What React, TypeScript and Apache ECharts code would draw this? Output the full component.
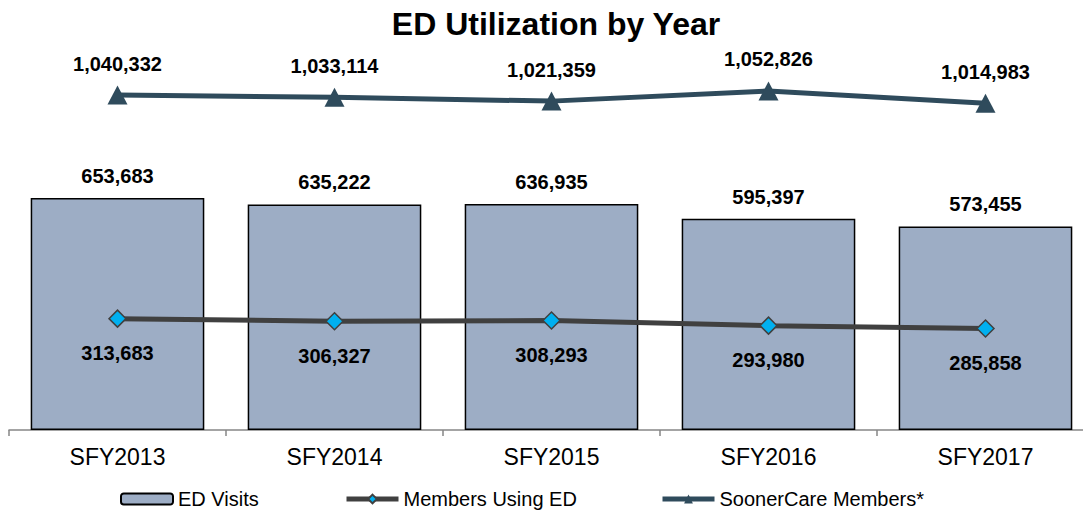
import React, { useEffect, useRef } from "react";
import * as echarts from "echarts";

const categories = ["SFY2013", "SFY2014", "SFY2015", "SFY2016", "SFY2017"];
const edVisits = [653683, 635222, 636935, 595397, 573455];
const membersUsingED = [313683, 306327, 308293, 293980, 285858];
const soonerCareMembers = [1040332, 1033114, 1021359, 1052826, 1014983];

const FONT = "'Liberation Sans', Arial, sans-serif";
const fmt = (v: number) => v.toLocaleString("en-US");

export default function App() {
  const ref = useRef<HTMLDivElement>(null);
  useEffect(() => {
    if (!ref.current) return;
    const chart = echarts.init(ref.current, undefined, { renderer: "svg" });
    const labelStyle = {
      fontFamily: FONT,
      fontWeight: "bold" as const,
      fontSize: 20,
      color: "#000000",
    };
    const legendBase = {
      top: 489,
      padding: 0,
      itemWidth: 52,
      itemHeight: 11,
      textStyle: { fontFamily: FONT, fontSize: 20, color: "#000000" },
      selectedMode: false,
      lineStyle: { width: 5 },
    };
    chart.setOption({
      animation: false,
      backgroundColor: "#ffffff",
      title: {
        text: "ED Utilization by Year",
        left: 551,
        textAlign: "center",
        top: 3,
        textStyle: { fontFamily: FONT, fontWeight: "bold", fontSize: 32, color: "#000000" },
      },
      legend: [
        { ...legendBase, left: 120, data: ["ED Visits"] },
        { ...legendBase, left: 344, data: ["Members Using ED"] },
        { ...legendBase, left: 660, data: ["SoonerCare Members*"] },
      ],
      grid: { left: 9, top: 30, width: 1085, height: 400, containLabel: false, outerBoundsMode: "none" },
      xAxis: {
        type: "category",
        data: categories,
        boundaryGap: true,
        axisLine: { lineStyle: { color: "#868686", width: 1.5 } },
        axisTick: { show: true, length: 6, lineStyle: { color: "#868686", width: 1.5 } },
        axisLabel: { fontFamily: FONT, fontSize: 23, color: "#000000", margin: 15 },
      },
      yAxis: [
        { type: "value", min: 0, max: 1126760, show: false, splitLine: { show: false } },
        { type: "value", min: 0, max: 1242236, show: false, splitLine: { show: false } },
      ],
      series: [
        {
          name: "ED Visits",
          type: "bar",
          data: edVisits,
          barCategoryGap: "20%",
          itemStyle: { color: "#9DADC5", borderColor: "#000000", borderWidth: 1.5 },
          label: {
            show: true,
            position: "top",
            distance: 12,
            formatter: (p: any) => fmt(p.value),
            ...labelStyle,
          },
          z: 1,
        },
        {
          name: "Members Using ED",
          type: "line",
          data: membersUsingED,
          symbol: "diamond",
          symbolSize: [17, 17],
          lineStyle: { color: "#404040", width: 5 },
          itemStyle: { color: "#00B0F0", borderColor: "#404040", borderWidth: 1.5 },
          label: {
            show: true,
            position: "bottom",
            distance: 15,
            formatter: (p: any) => fmt(p.value),
            ...labelStyle,
          },
          z: 3,
        },
        {
          name: "SoonerCare Members*",
          type: "line",
          yAxisIndex: 1,
          data: soonerCareMembers,
          symbol: "triangle",
          symbolSize: [20, 19],
          lineStyle: { color: "#2F4B5C", width: 5 },
          itemStyle: { color: "#2F4B5C", borderColor: "#2F4B5C", borderWidth: 0 },
          label: {
            show: true,
            position: "top",
            distance: 12,
            formatter: (p: any) => fmt(p.value),
            ...labelStyle,
          },
          z: 3,
        },
      ],
    });
    return () => chart.dispose();
  }, []);
  return (
    <div
      ref={ref}
      style={{ position: "absolute", left: 0, top: 0, width: 1083, height: 511, overflow: "hidden", background: "#fff" }}
    />
  );
}
